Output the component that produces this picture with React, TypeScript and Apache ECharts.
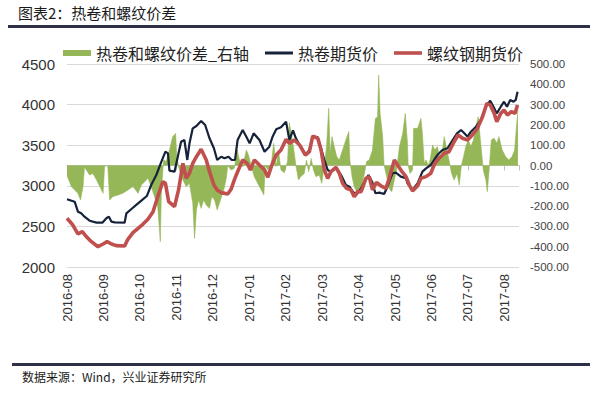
import React, { useEffect, useRef } from 'react';
import * as echarts from 'echarts';

// x positions are month offsets from 2016-08 (0 = 2016-08, 12 = 2017-08)
const months = ['2016-08', '2016-09', '2016-10', '2016-11', '2016-12', '2017-01', '2017-02', '2017-03', '2017-04', '2017-05', '2017-06', '2017-07', '2017-08'];
const leftTicks = { min: 2000, max: 4500, step: 500 };
const rightTicks = { min: -500, max: 500, step: 100 };

const hrcFutures: [number, number][] = [
  [0.0, 2834], [0.21, 2804], [0.3, 2681], [0.39, 2661], [0.48, 2620], [0.62, 2570], [0.81, 2546], [0.97, 2546],
  [1.08, 2600], [1.15, 2620], [1.22, 2558], [1.31, 2550], [1.58, 2546], [1.63, 2661], [1.76, 2711], [1.9, 2764],
  [2.04, 2817], [2.19, 2874], [2.31, 3010], [2.45, 3133], [2.59, 3297], [2.7, 3420], [2.77, 3400], [2.81, 3186],
  [2.95, 3174], [3.06, 3400], [3.13, 3543], [3.22, 3564], [3.3, 3318], [3.36, 3523], [3.45, 3708], [3.55, 3736],
  [3.68, 3798], [3.79, 3749], [3.91, 3585], [4.03, 3462], [4.12, 3318], [4.23, 3358], [4.32, 3339], [4.43, 3358],
  [4.52, 3318], [4.61, 3318], [4.68, 3564], [4.82, 3687], [4.92, 3605], [5.01, 3523], [5.12, 3646], [5.28, 3564],
  [5.42, 3420], [5.55, 3482], [5.64, 3605], [5.74, 3696], [5.87, 3720], [6.01, 3790], [6.1, 3564], [6.2, 3683],
  [6.28, 3585], [6.38, 3503], [6.54, 3379], [6.65, 3441], [6.74, 3613], [6.88, 3597], [6.97, 3462], [7.06, 3318],
  [7.15, 3195], [7.24, 3174], [7.38, 3228], [7.52, 3133], [7.65, 3010], [7.75, 2989], [7.84, 2928], [7.93, 2887],
  [8.04, 2949], [8.16, 3051], [8.27, 3133], [8.37, 3051], [8.46, 2908], [8.57, 2916], [8.7, 2899], [8.79, 2989],
  [8.93, 3154], [9.02, 3162], [9.16, 3113], [9.3, 3092], [9.34, 3031], [9.48, 2949], [9.62, 3031], [9.75, 3174],
  [9.85, 3215], [9.98, 3256], [10.07, 3318], [10.16, 3379], [10.3, 3441], [10.44, 3462], [10.58, 3564], [10.7, 3646],
  [10.81, 3687], [10.9, 3646], [10.99, 3605], [11.08, 3666], [11.22, 3728], [11.35, 3810], [11.49, 3974], [11.61, 4048],
  [11.7, 3974], [11.79, 3892], [11.9, 3974], [11.99, 4036], [12.07, 3974], [12.16, 4057], [12.25, 4036], [12.31, 4057],
  [12.36, 4159],
];

const rebarFutures: [number, number][] = [
  [0.0, 2600], [0.16, 2517], [0.3, 2407], [0.42, 2435], [0.53, 2374], [0.67, 2312], [0.85, 2250], [0.99, 2283],
  [1.1, 2312], [1.22, 2283], [1.35, 2263], [1.58, 2259], [1.67, 2341], [1.81, 2423], [1.95, 2477], [2.08, 2526],
  [2.22, 2588], [2.36, 2681], [2.49, 2866], [2.63, 3051], [2.7, 3031], [2.79, 2804], [2.95, 2743], [3.06, 2949],
  [3.18, 3277], [3.27, 3092], [3.36, 3154], [3.45, 3277], [3.55, 3358], [3.68, 3449], [3.82, 3318], [3.91, 3174],
  [4.03, 3010], [4.12, 2949], [4.23, 2916], [4.41, 2899], [4.5, 2957], [4.59, 3072], [4.7, 3195], [4.82, 3318],
  [4.94, 3277], [5.03, 3195], [5.14, 3318], [5.28, 3256], [5.42, 3195], [5.51, 3105], [5.62, 3256], [5.74, 3379],
  [5.87, 3441], [6.01, 3572], [6.1, 3523], [6.24, 3564], [6.38, 3503], [6.54, 3379], [6.65, 3420], [6.74, 3613],
  [6.88, 3585], [6.97, 3441], [7.06, 3195], [7.15, 3092], [7.24, 3174], [7.38, 3228], [7.47, 3154], [7.56, 3031],
  [7.67, 2969], [7.79, 2949], [7.88, 2866], [7.97, 2928], [8.07, 2928], [8.2, 3092], [8.29, 3113], [8.38, 2949],
  [8.49, 3041], [8.61, 3000], [8.75, 2969], [8.84, 3092], [8.98, 3318], [9.07, 3256], [9.19, 3174], [9.3, 3113],
  [9.39, 3010], [9.48, 2936], [9.62, 3000], [9.71, 3092], [9.85, 3113], [9.98, 3154], [10.09, 3277], [10.21, 3339],
  [10.35, 3400], [10.48, 3420], [10.62, 3543], [10.73, 3626], [10.85, 3585], [10.99, 3564], [11.12, 3626], [11.26, 3708],
  [11.4, 3851], [11.52, 4016], [11.61, 3995], [11.72, 3892], [11.79, 3790], [11.9, 3892], [11.99, 3933], [12.08, 3872],
  [12.19, 3913], [12.29, 3892], [12.36, 3995],
];

const spread: [number, number][] = [
  [0.0, -50], [0.03, -63], [0.12, -104], [0.21, -121], [0.3, -137], [0.37, -170], [0.44, -104], [0.48, -6],
  [0.53, -22], [0.62, -47], [0.71, -39], [0.81, -71], [0.9, -104], [0.99, -137], [1.03, -6], [1.08, 0],
  [1.12, -5], [1.17, -170], [1.26, -153], [1.4, -145], [1.53, -137], [1.67, -121], [1.81, -104], [1.95, -137],
  [2.04, -96], [2.13, -80], [2.22, -63], [2.31, -104], [2.4, -153], [2.49, -203], [2.56, -375], [2.59, -121],
  [2.65, 27], [2.72, 20], [2.81, 76], [2.9, 142], [2.98, 158], [3.01, 43], [3.07, -14], [3.18, -71],
  [3.27, -104], [3.36, -88], [3.45, -186], [3.5, -359], [3.55, -219], [3.61, -170], [3.68, -211], [3.75, -170],
  [3.82, -195], [3.91, -211], [3.97, -153], [4.05, -170], [4.12, -219], [4.21, -170], [4.3, -121], [4.37, -63],
  [4.41, 0], [4.5, -22], [4.59, -14], [4.67, 76], [4.73, 27], [4.82, -6], [4.92, 76], [4.98, 51],
  [5.07, -14], [5.14, -55], [5.23, -88], [5.33, -121], [5.4, -145], [5.44, 0], [5.51, -22], [5.6, 0],
  [5.67, 109], [5.74, -6], [5.8, 76], [5.87, -22], [5.96, -36], [6.05, 20], [6.1, 209], [6.16, 150],
  [6.21, 93], [6.28, 0], [6.35, -71], [6.41, -55], [6.51, -39], [6.57, 27], [6.63, -31], [6.7, 35],
  [6.76, -22], [6.83, -55], [6.92, -47], [6.99, -88], [7.06, 0], [7.12, 93], [7.18, 282], [7.22, 60],
  [7.27, 142], [7.33, 93], [7.4, 44], [7.47, 27], [7.56, 76], [7.65, 126], [7.73, 167], [7.76, 27],
  [7.82, -55], [7.88, -104], [7.97, -137], [8.06, -121], [8.16, -39], [8.22, 20], [8.29, 27], [8.38, 76],
  [8.46, 232], [8.52, 240], [8.55, 446], [8.59, 257], [8.66, 142], [8.7, 0], [8.77, -55], [8.84, -113],
  [8.91, -129], [8.98, -71], [9.04, -22], [9.12, 93], [9.21, 158], [9.28, 257], [9.34, 109], [9.36, 0],
  [9.41, -39], [9.48, -22], [9.51, 183], [9.62, 183], [9.71, 232], [9.75, 158], [9.8, 11], [9.85, 27],
  [9.91, 0], [9.96, 27], [10.03, 101], [10.09, 76], [10.16, 93], [10.24, 27], [10.3, 76], [10.35, 142],
  [10.42, 76], [10.48, 27], [10.55, -39], [10.62, -71], [10.7, -39], [10.76, -96], [10.82, 0], [10.88, 44],
  [10.94, 93], [11.01, 126], [11.08, 93], [11.15, 126], [11.22, 191], [11.28, 240], [11.35, 109], [11.42, -22],
  [11.49, -71], [11.53, -129], [11.58, -22], [11.64, 126], [11.72, 134], [11.79, 109], [11.85, 142], [11.94, 76],
  [12.03, 44], [12.12, 27], [12.21, 44], [12.28, 76], [12.33, 191], [12.37, 274],
];

const seriesNames = ['热卷和螺纹价差_右轴', '热卷期货价', '螺纹钢期货价'];
const titleText = '图表2：热卷和螺纹价差';
const sourceText = '数据来源：Wind，兴业证券研究所';

const CJK = '"Noto Sans CJK SC", sans-serif';
const NUM = '"Liberation Sans", Arial, sans-serif';

export default function App() {
  const ref = useRef<HTMLDivElement>(null);
  useEffect(() => {
    const chart = echarts.init(ref.current!, null, { renderer: 'svg' });
    chart.setOption({
      animation: false,
      backgroundColor: '#ffffff',
      grid: { left: 67, right: 71, top: 64, bottom: 128, containLabel: false },
      legend: {
        top: 40,
        left: 58,
        itemGap: 16,
        itemWidth: 28,
        itemHeight: 6,
        textStyle: { fontSize: 16, color: '#222', fontFamily: CJK },
        data: [
          { name: seriesNames[0], icon: 'rect' },
          { name: seriesNames[1], icon: 'path://M0 0H28V3H0Z' },
          { name: seriesNames[2], icon: 'path://M0 0H28V3.6H0Z' },
        ],
      },
      xAxis: {
        type: 'value',
        min: 0,
        max: 12.4,
        interval: 1,
        axisLine: { show: true, lineStyle: { color: '#BFBFBF', width: 1 } },
        axisTick: { show: true, length: 5, lineStyle: { color: '#BFBFBF' } },
        splitLine: { show: false },
        axisLabel: {
          rotate: 90,
          margin: 7,
          fontSize: 13,
          color: '#333',
          fontFamily: NUM,
          formatter: (v: number) => (Number.isInteger(v) && months[v] ? months[v] : ''),
        },
      },
      yAxis: [
        {
          type: 'value',
          position: 'left',
          min: leftTicks.min,
          max: leftTicks.max,
          interval: leftTicks.step,
          axisLine: { show: false },
          axisTick: { show: false },
          splitLine: { show: true, lineStyle: { color: '#D9D9D9', width: 1 } },
          axisLabel: {
            fontSize: 15,
            color: '#333',
            margin: 12,
            fontFamily: NUM,
            formatter: (v: number) => String(v),
          },
        },
        {
          type: 'value',
          position: 'right',
          min: rightTicks.min,
          max: rightTicks.max,
          interval: rightTicks.step,
          axisLine: { show: false },
          axisTick: { show: false },
          splitLine: { show: false },
          axisLabel: {
            fontSize: 11.5,
            color: '#444',
            margin: 11,
            fontFamily: NUM,
            formatter: (v: number) => v.toFixed(2),
          },
        },
      ],
      series: [
        {
          name: seriesNames[0],
          type: 'line',
          yAxisIndex: 1,
          data: spread,
          symbol: 'none',
          color: '#96B757',
          lineStyle: { width: 0.6, color: '#96B757' },
          areaStyle: { color: '#96B757', opacity: 1, origin: 0 },
          z: 1,
        },
        {
          name: seriesNames[1],
          type: 'line',
          yAxisIndex: 0,
          data: hrcFutures,
          symbol: 'none',
          color: '#16233B',
          lineStyle: { width: 2.2, color: '#16233B' },
          z: 2,
        },
        {
          name: seriesNames[2],
          type: 'line',
          yAxisIndex: 0,
          data: rebarFutures,
          symbol: 'none',
          color: '#C0504D',
          lineStyle: { width: 3.6, color: '#C0504D' },
          z: 3,
        },
      ],
      graphic: [
        {
          type: 'text',
          left: 18,
          top: 5,
          style: { text: titleText, fontSize: 15, fill: '#1a1a1a', fontFamily: CJK },
        },
        {
          type: 'rect',
          shape: { x: 8, y: 25, width: 582, height: 3 },
          style: { fill: '#2E3048' },
        },
        {
          type: 'rect',
          shape: { x: 12, y: 363, width: 578, height: 3 },
          style: { fill: '#2E3048' },
        },
        {
          type: 'text',
          left: 22,
          top: 370,
          style: { text: sourceText, fontSize: 12, fill: '#1a1a1a', fontFamily: CJK },
        },
      ],
    });
    return () => chart.dispose();
  }, []);
  return (
    <div
      ref={ref}
      style={{ position: 'absolute', left: 0, top: 0, width: 590, height: 395, background: '#fff' }}
    />
  );
}
